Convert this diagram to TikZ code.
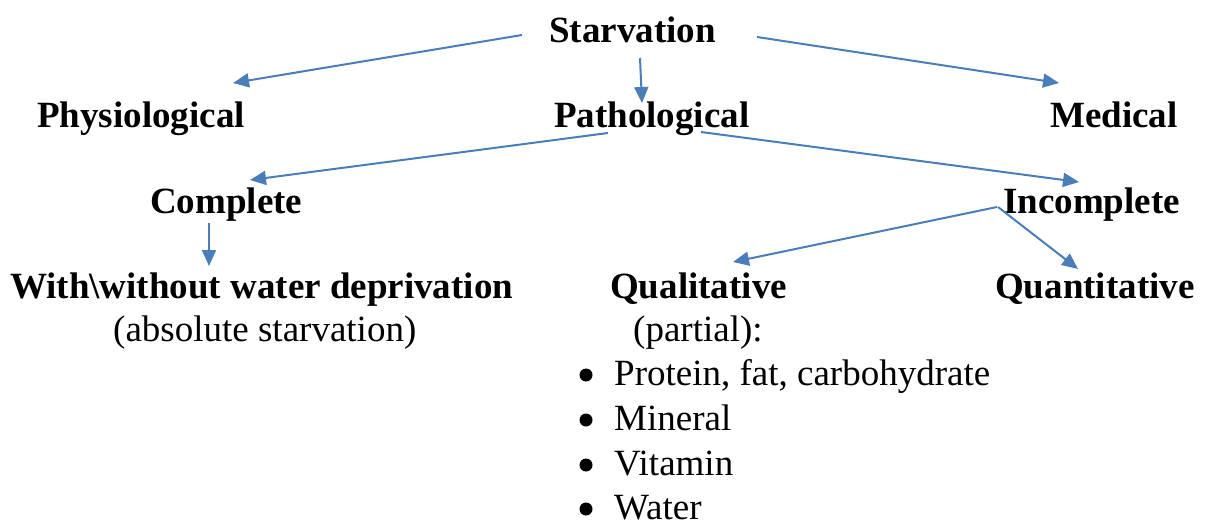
\documentclass[tikz,border=0pt]{standalone}
\usepackage{fontspec}
\setmainfont{Liberation Serif}
\usetikzlibrary{arrows.meta}
\definecolor{arrowblue}{RGB}{74,126,187}
\tikzset{
  lbl/.style={anchor=base west, inner sep=0pt, font=\fontsize{37}{44}\selectfont\bfseries},
  sub/.style={anchor=base west, inner sep=0pt, font=\fontsize{37}{44}\selectfont},
  conn/.style={draw=arrowblue, line width=2pt, -{Triangle[length=16pt,width=14pt]}, fill=arrowblue},
  bul/.style={circle, fill=black, inner sep=0pt, minimum size=13pt}
}
\begin{document}
\begin{tikzpicture}[x=1pt,y=-1pt]
\useasboundingbox (0,0) rectangle (1205,525);
% labels
\node[lbl] (starv) at (549,42) {Starvation};
\node[lbl] (phys) at (37,127) {Physiological};
\node[lbl] (path) at (554,127) {Pathological};
\node[lbl] (med) at (1050,127) {Medical};
\node[lbl] (compl) at (150,213) {Complete};
\node[lbl] (incompl) at (1003,213) {Incomplete};
\node[lbl] (withw) at (10,298) {With\textbackslash without water deprivation};
\node[lbl] (qual) at (610,298) {Qualitative};
\node[lbl] (quant) at (995,298) {Quantitative};
\node[sub] (abs) at (113,341) {(absolute starvation)};
\node[sub] (part) at (633,341) {(partial):};
\node[sub] (b1) at (614,385) {Protein, fat, carbohydrate};
\node[sub] (b2) at (614,430) {Mineral};
\node[sub] (b3) at (614,475) {Vitamin};
\node[sub] (b4) at (614,519) {Water};
\node[bul] (d1) at (586,375) {};
\node[bul] (d2) at (586,420) {};
\node[bul] (d3) at (586,465) {};
\node[bul] (d4) at (586,509) {};
% connector end points
\coordinate (s1) at (522,35);  \coordinate (t1) at (233,83);
\coordinate (s2) at (640,58);  \coordinate (t2) at (642,103);
\coordinate (s3) at (757,37);  \coordinate (t3) at (1059,83);
\coordinate (s4) at (608,133); \coordinate (t4) at (250,180);
\coordinate (s5) at (701,132); \coordinate (t5) at (1079,182);
\coordinate (s6) at (209,223); \coordinate (t6) at (209,266);
\coordinate (s7) at (997,207); \coordinate (t7) at (733,262);
\coordinate (s8) at (998,207); \coordinate (t8) at (1078,269);
% connectors
\draw[conn] (s1) -- (t1);
\draw[conn] (s2) -- (t2);
\draw[conn] (s3) -- (t3);
\draw[conn] (s4) -- (t4);
\draw[conn] (s5) -- (t5);
\draw[conn] (s6) -- (t6);
\draw[conn] (s7) -- (t7);
\draw[conn] (s8) -- (t8);
\end{tikzpicture}
\end{document}
